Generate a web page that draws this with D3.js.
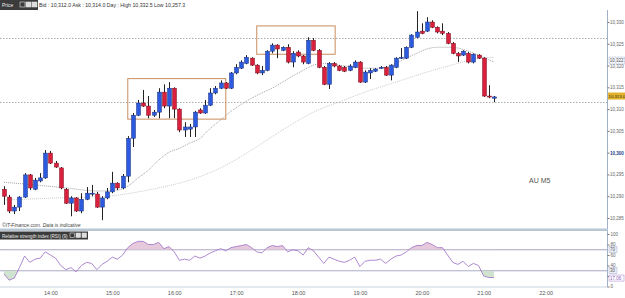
<!DOCTYPE html>
<html>
<head>
<meta charset="utf-8">
<script src="https://cdn.jsdelivr.net/npm/d3@7"></script>
<style>
  body { margin: 0; background: #fff; font-family: "Liberation Sans", Arial, sans-serif; }
  svg { display: block; }
</style>
</head>
<body>
<div id="chart"></div>
<script>
// 5 minute candles, first one at 13:15
var startTime = new Date(2020, 0, 6, 13, 15);
var opens = [10291.6,10289.8,10286.6,10287.5,10289.8,10294.9,10291.6,10293.5,10294.2,10299.9,
  10297.6,10296.5,10291.6,10288.4,10289.6,10286.6,10289.3,10290.5,10290.5,10287.5,
  10289.6,10291.0,10293.0,10291.9,10294.6,10303.3,10308.6,10311.4,10310.7,10308.6,
  10309.3,10313.9,10310.7,10314.8,10310.0,10305.2,10305.4,10305.9,10309.8,10309.1,
  10310.9,10313.7,10314.8,10316.0,10314.8,10318.3,10319.4,10320.5,10321.7,10320.1,
  10318.3,10318.9,10323.3,10324.7,10323.5,10324.2,10320.8,10323.1,10322.2,10320.5,
  10325.8,10323.5,10319.6,10315.7,10320.5,10319.9,10319.6,10318.9,10319.6,10320.8,
  10316.2,10318.3,10318.7,10319.4,10319.6,10317.8,10319.6,10321.7,10321.7,10324.2,
  10326.5,10327.9,10327.9,10330.0,10328.8,10327.9,10327.4,10325.1,10322.8,10322.4,
  10322.8,10320.8,10322.4,10321.7,10313.0,10312.5];
var highs = [10292.3,10290.3,10288.0,10290.0,10295.3,10295.1,10294.2,10295.3,10300.6,10300.4,
  10298.1,10296.7,10291.9,10290.0,10289.8,10290.7,10292.1,10292.6,10291.0,10290.0,
  10291.9,10295.6,10293.2,10295.1,10303.8,10309.1,10312.1,10314.4,10313.0,10309.8,
  10314.8,10315.7,10316.2,10315.0,10310.2,10307.0,10306.6,10309.6,10310.2,10312.1,
  10314.8,10315.3,10316.6,10316.2,10318.5,10320.3,10321.2,10322.4,10321.9,10320.3,
  10319.9,10323.5,10325.1,10324.9,10324.4,10324.9,10323.3,10323.5,10322.4,10326.5,
  10326.3,10323.8,10319.9,10320.8,10320.8,10320.1,10319.9,10320.3,10321.2,10321.0,
  10318.9,10319.4,10319.4,10319.9,10319.9,10320.3,10321.9,10324.0,10324.4,10327.2,
  10332.5,10329.7,10331.1,10330.4,10329.0,10329.7,10327.7,10325.4,10323.1,10323.5,
  10323.1,10322.8,10322.6,10321.9,10315.5,10313.0];
var lows = [10288.0,10286.1,10285.9,10286.6,10289.6,10291.4,10291.4,10293.2,10294.0,10297.4,
  10296.5,10291.6,10288.2,10285.4,10286.4,10286.1,10289.1,10290.0,10287.3,10284.5,
  10289.3,10290.7,10291.4,10291.6,10293.2,10301.3,10308.4,10310.5,10307.9,10308.2,
  10307.9,10310.2,10307.9,10307.9,10304.7,10303.6,10303.6,10303.6,10308.9,10308.9,
  10310.7,10313.4,10314.6,10314.6,10314.6,10318.0,10319.2,10320.3,10319.9,10318.0,
  10317.8,10318.7,10322.8,10321.7,10323.3,10320.5,10319.6,10321.9,10320.3,10320.3,
  10323.3,10319.4,10315.5,10314.6,10319.6,10318.7,10318.5,10318.7,10319.4,10316.0,
  10316.0,10316.9,10318.5,10319.2,10317.6,10316.6,10319.4,10321.5,10321.5,10324.0,
  10326.3,10327.2,10327.7,10328.6,10327.4,10327.0,10324.9,10322.6,10320.8,10322.2,
  10320.5,10320.5,10321.5,10312.8,10312.5,10311.6];
var closes = [10290.0,10286.6,10287.5,10289.8,10294.9,10291.9,10293.7,10294.2,10299.9,10297.6,
  10296.7,10291.9,10288.4,10289.6,10286.6,10289.3,10290.7,10290.7,10287.5,10289.6,
  10291.0,10293.0,10291.9,10294.6,10303.3,10308.6,10311.4,10310.7,10308.6,10309.3,
  10313.9,10310.7,10314.8,10310.0,10305.2,10305.9,10305.9,10309.3,10309.1,10310.9,
  10313.7,10314.8,10316.0,10314.8,10318.3,10319.6,10320.8,10321.9,10320.1,10318.3,
  10318.9,10323.3,10324.7,10323.8,10324.2,10320.8,10322.8,10322.2,10320.8,10325.8,
  10323.5,10319.6,10315.7,10320.5,10319.9,10318.9,10318.7,10319.9,10320.8,10316.2,
  10318.5,10318.9,10319.2,10319.6,10317.8,10320.1,10321.7,10321.9,10324.2,10327.0,
  10327.7,10327.4,10330.0,10328.8,10327.7,10327.4,10325.1,10322.8,10322.2,10323.3,
  10320.8,10322.6,10321.7,10313.0,10312.8,10312.8];

// RSI(9), one value per candle
var rsi = [24,12,16,36,58,46,52,54,66,60, 54,40,32,36,28,40,46,44,32,42,
  48,56,52,60,74,82,86,86,80,80, 84,72,76,66,50,52,50,58,54,58,
  64,68,72,68,74,76,78,80,74,66, 64,74,78,76,78,66,70,68,60,74,
  68,56,44,56,52,48,46,50,56,38, 48,50,50,52,44,52,58,60,66,74,
  78,78,84,80,74,74,60,46,42,48, 38,44,40,20,17,17.06];

// moving averages read at sample candles
var maFastAt = [0,6,12,18,22,24,26,28,30,32,34,36,38,40,42,44,46,48,50,52,54,56,58,60,62,64,66,68,70,72,74,76,78,80,82,84,86,88,90,92,95];
var maFast = [10293.2,10292.6,10291.9,10291.2,10291.4,10292.3,10294.2,10296.0,10298.3,10300.1,
  10301.0,10302.2,10303.3,10305.6,10307.5,10309.5,10311.1,10312.5,10313.7,10314.8,
  10316.2,10317.6,10318.9,10320.1,10320.5,10320.3,10319.9,10319.6,10319.4,10319.4,
  10319.6,10320.5,10321.7,10322.8,10323.8,10324.2,10324.2,10324.0,10323.3,10322.4,10320.8];
var maSlowAt = [0,10,20,26,30,36,42,48,54,60,66,70,76,82,88,92,95];
var maSlow = [10289.1,10289.6,10290.0,10291.0,10291.9,10293.7,10296.5,10300.6,10305.2,10309.3,
  10312.1,10313.9,10316.2,10318.5,10320.5,10321.7,10321.9];

var priceTicks = [10285,10290,10295,10300,10305,10310,10315,10320,10325,10330];
var rsiTicks = [0,20,40,60,80,100];
var rsiLabels = [0,40,60,80,100];
var rsiLevels = [70,30];
var levelLines = [10326.3,10311.6];
// [start candle, end candle, top price, bottom price]
var boxes = [[24,43,10317.0,10307.7],[49,64.2,10329.1,10322.6]];

var W = 625, H = 298;
var svg = d3.select("#chart").append("svg").attr("width", W).attr("height", H);

var times = opens.map(function(d, i) { return d3.timeMinute.offset(startTime, 5 * i); });
var x = d3.scaleTime()
  .domain([new Date(2020, 0, 6, 13, 0), new Date(2020, 0, 6, 22, 50)])
  .range([-11.5, 597.2]);
var y = d3.scaleLinear().domain([10285, 10330]).range([218, 22]);
var ry = d3.scaleLinear().domain([0, 100]).range([286.5, 234]);
var idxX = function(i) { return x(d3.timeMinute.offset(startTime, 5 * i)); };

var axisCol = "#9fb1c6";

// header bar
var hb = svg.append("g");
hb.append("rect").attr("x", 0).attr("y", 0).attr("width", 38).attr("height", 10).attr("fill", "#3b3b3b");
hb.append("text").attr("x", 2).attr("y", 7).attr("fill", "#eee").attr("font-size", 5).text("Price");
[20, 26, 32].forEach(function(px, k) {
  hb.append("rect").attr("x", px).attr("y", 2).attr("width", 5).attr("height", 5)
    .attr("fill", k == 0 ? "none" : "#ddd").attr("stroke", "#ddd").attr("stroke-width", 0.6);
});
hb.append("text").attr("x", 39).attr("y", 7).attr("fill", "#333").attr("font-size", 5.2)
  .text("Bid : 10,312.0  Ask : 10,314.0  Day : High 10,332.5  Low 10,257.3");

// panel frames
svg.append("line").attr("x1", 607.5).attr("x2", 607.5).attr("y1", 10).attr("y2", 287)
  .attr("stroke", axisCol).attr("stroke-width", 1);
svg.append("rect").attr("x", 0).attr("y", 228.5).attr("width", 608).attr("height", 2.5).attr("fill", "#b9c6d4");
svg.append("line").attr("x1", 0).attr("x2", 608).attr("y1", 287).attr("y2", 287)
  .attr("stroke", "#c9d3de").attr("stroke-width", 1);

// horizontal level lines
svg.append("g").selectAll("line").data(levelLines).join("line")
  .attr("x1", 0).attr("x2", 607).attr("y1", function(d) { return Math.round(y(d)) + 0.5; })
  .attr("y2", function(d) { return Math.round(y(d)) + 0.5; })
  .attr("stroke", "#999").attr("stroke-width", 0.8).attr("stroke-dasharray", "1.5,1.5");

// moving averages
var maLine = d3.line().x(function(d) { return idxX(d[0]); }).y(function(d) { return y(d[1]); })
  .curve(d3.curveMonotoneX);
svg.append("path").datum(d3.zip(maSlowAt, maSlow)).attr("d", maLine)
  .attr("fill", "none").attr("stroke", "#bdbdbd").attr("stroke-width", 0.8).attr("stroke-dasharray", "1,1");
svg.append("path").datum(d3.zip(maFastAt, maFast)).attr("d", maLine)
  .attr("fill", "none").attr("stroke", "#8a8a8a").attr("stroke-width", 0.8).attr("stroke-dasharray", "1,1");

// boxes
svg.append("g").selectAll("rect").data(boxes).join("rect")
  .attr("x", function(d) { return idxX(d[0]); })
  .attr("y", function(d) { return y(d[2]); })
  .attr("width", function(d) { return idxX(d[1]) - idxX(d[0]); })
  .attr("height", function(d) { return y(d[3]) - y(d[2]); })
  .attr("fill", "none").attr("stroke", "#c98d5d").attr("stroke-width", 1);

// candles
var cg = svg.append("g");
opens.forEach(function(o, i) {
  var cx = Math.round(x(times[i])) + 0.5;
  var up = closes[i] >= o;
  cg.append("line").attr("x1", cx).attr("x2", cx).attr("y1", y(highs[i])).attr("y2", y(lows[i]))
    .attr("stroke", "#222").attr("stroke-width", 1);
  var top = y(Math.max(o, closes[i])), bot = y(Math.min(o, closes[i]));
  cg.append("rect").attr("x", cx - 2).attr("y", top).attr("width", 4).attr("height", Math.max(1, bot - top))
    .attr("fill", up ? "#2d5be0" : "#d9213d").attr("stroke", up ? "#1b2f7a" : "#7a1020").attr("stroke-width", 0.5);
});

// price axis
var pa = svg.append("g").attr("transform", "translate(607.5,0)")
  .call(d3.axisRight(y).tickValues(priceTicks).tickSize(2).tickFormat(d3.format(",")));
pa.select(".domain").remove();
pa.selectAll("line").attr("stroke", "#777");
pa.selectAll("text").attr("font-size", 4.5).attr("x", 2.5)
  .attr("font-weight", function(d) { return d == 10300 ? "bold" : null; })
  .attr("fill", function(d) { return d == 10300 ? "#223a8a" : "#666"; });

// value tags on price axis
svg.append("rect").attr("x", 609).attr("y", 57).attr("width", 15.5).attr("height", 7)
  .attr("fill", "#f4f6fb").attr("stroke", "#8b9ac0").attr("stroke-width", 0.5).attr("stroke-dasharray", "1,0.5");
svg.append("text").attr("x", 609.8).attr("y", 62.3).attr("font-size", 4.5).attr("fill", "#555").text("10,322");
svg.append("rect").attr("x", 608).attr("y", y(10313) - 3.5).attr("width", 17).attr("height", 7).attr("fill", "#e3b22b");
svg.append("text").attr("x", 608.5).attr("y", y(10313) + 1.8).attr("font-size", 4.3).attr("fill", "#333").text("10,313.0");

svg.append("text").attr("x", 2).attr("y", 227).attr("font-size", 5).attr("font-style", "italic")
  .attr("fill", "#444").text("©IT-Finance.com. Data is indicative");
svg.append("text").attr("x", 529).attr("y", 183).attr("font-size", 7).attr("fill", "#555").text("AU M5");

// RSI panel
var rg = svg.append("g");
rg.append("rect").attr("x", 0).attr("y", 231.5).attr("width", 88).attr("height", 8).attr("fill", "#3b3b3b");
rg.append("text").attr("x", 2).attr("y", 237.5).attr("font-size", 4.6).attr("fill", "#eee")
  .text("Relative strength index (RSI) (9)");
[70, 76, 82].forEach(function(px, k) {
  rg.append("rect").attr("x", px).attr("y", 233).attr("width", 4.5).attr("height", 4.5)
    .attr("fill", k == 0 ? "none" : "#ddd").attr("stroke", "#ddd").attr("stroke-width", 0.6);
});
rg.selectAll("line.lvl").data(rsiLevels).join("line").attr("class", "lvl")
  .attr("x1", 0).attr("x2", 607).attr("y1", function(d) { return ry(d); }).attr("y2", function(d) { return ry(d); })
  .attr("stroke", "#a9a4c6").attr("stroke-width", 1);

var rsiPts = rsi.map(function(v, i) { return [idxX(i), ry(v)]; });
var defs = svg.append("defs");
defs.append("clipPath").attr("id", "above").append("rect").attr("x", 0).attr("y", 220).attr("width", 607).attr("height", ry(70) - 220);
defs.append("clipPath").attr("id", "below").append("rect").attr("x", 0).attr("y", ry(30)).attr("width", 607).attr("height", 300 - ry(30));
rg.append("path").datum(rsiPts).attr("clip-path", "url(#above)")
  .attr("d", d3.area().x(function(d) { return d[0]; }).y0(ry(70)).y1(function(d) { return d[1]; }))
  .attr("fill", "#e6c9da");
rg.append("path").datum(rsiPts).attr("clip-path", "url(#below)")
  .attr("d", d3.area().x(function(d) { return d[0]; }).y0(ry(30)).y1(function(d) { return d[1]; }))
  .attr("fill", "#cfe3cf");
rg.append("path").datum(rsiPts).attr("d", d3.line())
  .attr("fill", "none").attr("stroke", "#a57ccc").attr("stroke-width", 0.9);

var ra = svg.append("g").attr("transform", "translate(607.5,0)")
  .call(d3.axisRight(ry).tickValues(rsiTicks).tickSize(2)
    .tickFormat(function(d) { return rsiLabels.indexOf(d) >= 0 ? d : ""; }));
ra.select(".domain").remove();
ra.selectAll("line").attr("stroke", "#777");
ra.selectAll("text").attr("font-size", 4.5).attr("fill", "#666").attr("x", 3);
rsiLevels.forEach(function(v) {
  svg.append("rect").attr("x", 609).attr("y", ry(v) - 3).attr("width", 8).attr("height", 6)
    .attr("fill", "#eef0f8").attr("stroke", "#8b9ac0").attr("stroke-width", 0.4);
  svg.append("text").attr("x", 610).attr("y", ry(v) + 1.7).attr("font-size", 4.5).attr("fill", "#555").text(v);
});
var lastR = rsi[rsi.length - 1];
svg.append("rect").attr("x", 609).attr("y", ry(lastR) - 2.5).attr("width", 15).attr("height", 6)
  .attr("fill", "#fff").attr("stroke", "#a57ccc").attr("stroke-width", 0.5);
svg.append("text").attr("x", 610).attr("y", ry(lastR) + 2.2).attr("font-size", 4.5).attr("fill", "#8a5cb8")
  .text(d3.format(".2f")(lastR));

// time axis
var ta = svg.append("g").attr("transform", "translate(0,287)")
  .call(d3.axisBottom(x).ticks(d3.timeHour.every(1)).tickSize(0).tickFormat(d3.timeFormat("%H:%M")));
ta.select(".domain").remove();
ta.selectAll(".tick").filter(function(d) { return d.getHours() < 14; }).remove();
ta.selectAll("text").attr("font-size", 5.5).attr("fill", "#555").attr("dy", "0.9em");
</script>
</body>
</html>
